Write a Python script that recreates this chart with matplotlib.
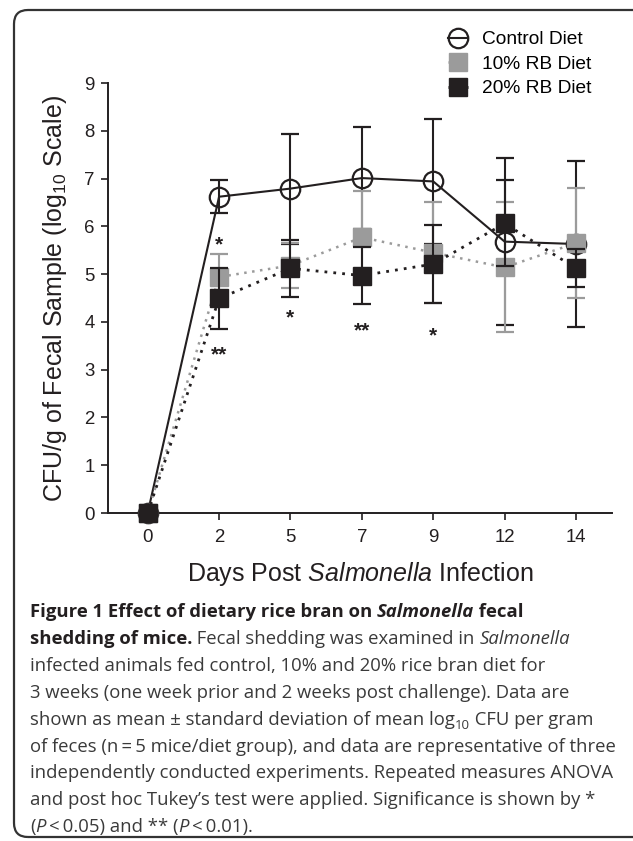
import matplotlib
matplotlib.use('Agg')
import matplotlib.pyplot as plt
from matplotlib.patches import FancyBboxPatch
from matplotlib.transforms import IdentityTransform
from matplotlib.lines import Line2D
import numpy as np

# data
days = ['0', '2', '5', '7', '9', '12', '14']
control_mean = [0, 6.62, 6.79, 7.01, 6.94, 5.68, 5.63]
control_sd = [0, 0.35, 1.15, 1.06, 1.31, 1.74, 1.73]
rb10_mean = [0, 4.94, 5.18, 5.77, 5.45, 5.14, 5.65]
rb10_sd = [0, 0.49, 0.47, 0.96, 1.05, 1.36, 1.16]
rb20_mean = [0, 4.49, 5.12, 4.97, 5.21, 6.06, 5.12]
rb20_sd = [0, 0.63, 0.59, 0.60, 0.82, 0.90, 0.40]

sig_pos = [1, 1, 2, 3, 4]
sig_y = [5.62, 3.31, 4.09, 3.82, 3.70]
sig_txt = ['*', '**', '*', '**', '*']

series_names = ['Control Diet', '10% RB Diet', '20% RB Diet']

plt.rcParams['font.family'] = 'Liberation Sans'
plt.rcParams['mathtext.fontset'] = 'custom'
plt.rcParams['mathtext.rm'] = 'Liberation Sans'
plt.rcParams['mathtext.it'] = 'Liberation Sans:italic'

black = '#231f20'
gray = '#9b9b9b'
dots = (0, (1, 2.2))

fig = plt.figure(figsize=(6.33, 8.41), dpi=100)
W, H = 633, 841
ax = fig.add_axes([108 / W, 1 - 513 / H, (612 - 108) / W, (513 - 83) / H])

x = np.arange(len(days))
ebkw = dict(capsize=6.8, capthick=1.6, elinewidth=1.5, clip_on=False)

ax.errorbar(x, control_mean, yerr=control_sd, color=black, ls='-', lw=1.5,
            marker='o', ms=14, mfc='none', mec=black, mew=1.6, zorder=3, **ebkw)
ax.errorbar(x, rb10_mean, yerr=rb10_sd, color=gray, ls=dots, lw=1.8,
            marker='s', ms=13.5, mfc=gray, mec=gray, zorder=4, **ebkw)
ax.errorbar(x, rb20_mean, yerr=rb20_sd, color=black, ls=dots, lw=2.0,
            marker='s', ms=13.5, mfc=black, mec=black, zorder=5, **ebkw)

for p, yy, s in zip(sig_pos, sig_y, sig_txt):
    ax.text(p, yy, s, ha='center', va='center', fontsize=15, weight='bold', color=black)

ax.set_xlim(-0.556, 6.504)
ax.set_ylim(0, 9)
ax.set_xticks(x)
ax.set_xticklabels(days)
ax.set_yticks(range(10))
for s in ['top', 'right']:
    ax.spines[s].set_visible(False)
for s in ['left', 'bottom']:
    ax.spines[s].set_linewidth(1.4)
    ax.spines[s].set_color(black)
ax.tick_params(direction='out', length=5, width=1.2, colors=black,
               labelsize=13.4, pad=4.5)
ax.tick_params(axis='x', pad=6.5)

ax.set_xlabel('Days Post $\\it{Salmonella}$ Infection', fontsize=18, color=black)
ax.xaxis.set_label_coords(0.5, 1 - (560 - 83) / 430, transform=ax.transAxes)
ax.set_ylabel('CFU/g of Fecal Sample (log$_{10}$ Scale)', fontsize=18, color=black)
ax.yaxis.set_label_coords((69 - 108) / 504, 0.5)

handles = [
    Line2D([], [], color=black, lw=1.5, marker='o', ms=14, mfc='none', mec=black, mew=1.6),
    Line2D([], [], color=gray, lw=1.8, ls=dots, marker='s', ms=13.5, mfc=gray, mec=gray),
    Line2D([], [], color=black, lw=2.0, ls=dots, marker='s', ms=13.5, mfc=black, mec=black),
]
fig.legend(handles, series_names, loc='upper left',
           bbox_to_anchor=(448.4 / W, 1 - 31 / H),
           frameon=False, fontsize=13.8, handlelength=1.0, handletextpad=0.75,
           labelspacing=0.37, borderaxespad=0, borderpad=0)

# rounded frame round the figure
frame = FancyBboxPatch((14, 4), 660, 827, boxstyle='round,pad=0,rounding_size=14',
                       transform=IdentityTransform(), fill=False,
                       ec='#333333', lw=1.6)
fig.add_artist(frame)

# caption
fig.canvas.draw()
renderer = fig.canvas.get_renderer()
cap = dict(family='Open Sans', fontsize=13.3, va='baseline', ha='left')
dark = '#231f20'
txtc = '#3a3a3a'


def put_line(xpx, ypx, segs):
    for txt, kw in segs:
        opts = dict(cap)
        opts['color'] = txtc
        opts.update(kw)
        dy = opts.pop('dy', 0)
        t = fig.text(xpx / W, 1 - (ypx + dy) / H, txt, **opts)
        xpx += t.get_window_extent(renderer).width


B = dict(weight='bold', color=dark)
BI = dict(weight='bold', style='italic', color=dark)
I = dict(style='italic')
N = dict()
SUB = dict(fontsize=9.5, dy=4)

lines = [
    [('Figure 1 Effect of dietary rice bran on ', B), ('Salmonella', BI), (' fecal', B)],
    [('shedding of mice.', B), (' Fecal shedding was examined in ', N), ('Salmonella', I)],
    [('infected animals fed control, 10% and 20% rice bran diet for', N)],
    [('3 weeks (one week prior and 2 weeks post challenge). Data are', N)],
    [('shown as mean \u00b1 standard deviation of mean log', N), ('10', SUB), (' CFU per gram', N)],
    [('of feces (n\u2009=\u20095 mice/diet group), and data are representative of three', N)],
    [('independently conducted experiments. Repeated measures ANOVA', N)],
    [('and post hoc Tukey\u2019s test were applied. Significance is shown by *', N)],
    [('(', N), ('P', I), ('\u2009<\u20090.05) and ** (', N), ('P', I), ('\u2009<\u20090.01).', N)],
]
for i, segs in enumerate(lines):
    put_line(30, 617 + i * 26.9, segs)

fig.savefig('out.png', dpi=100)
